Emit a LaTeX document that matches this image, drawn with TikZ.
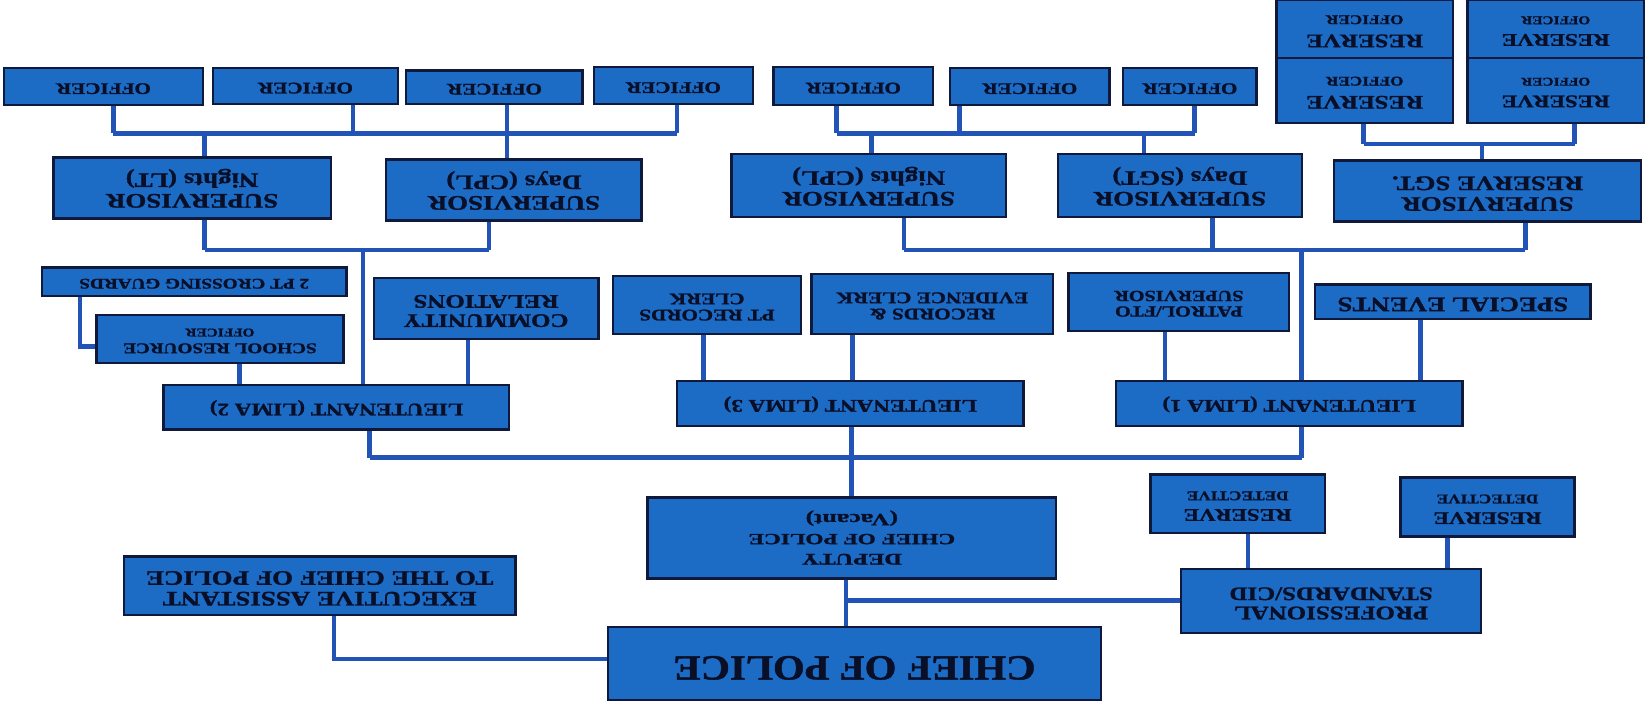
\documentclass[tikz,border=0pt]{standalone}
\usepackage{graphicx}
\usepackage{fontspec}
\setmainfont{Liberation Serif}[BoldFeatures={FakeBold=1.2}]

\definecolor{boxfill}{RGB}{28,108,198}
\definecolor{boxline}{RGB}{15,25,60}
\definecolor{boxtext}{RGB}{10,15,40}
\definecolor{linkblue}{RGB}{34,84,184}

\newcommand{\fs}[1]{\fontsize{#1}{#1}\selectfont}
\newcommand{\flip}[2][1.3]{\rotatebox{180}{\scalebox{#1}[1]{\begin{tabular}{@{}c@{}}#2\end{tabular}}}}

\begin{document}
\begin{tikzpicture}[x=0.025cm, y=-0.025cm, box/.style={draw=boxline, line width=1.6pt, fill=boxfill, text=boxtext, inner sep=0pt}, link/.style={draw=linkblue, line width=3pt}]
                \useasboundingbox (0,0) rectangle (1568,669);
                % officers
                \node[box, minimum width=4.73cm, minimum height=0.88cm, font=\bfseries\fs{11}] (off1) at (98.5,82.5) {\flip{OFFICER}};
                \node[box, minimum width=4.4cm, minimum height=0.85cm, font=\bfseries\fs{11}] (off2) at (291,82) {\flip{OFFICER}};
                \node[box, minimum width=4.2cm, minimum height=0.8cm, font=\bfseries\fs{11}] (off3) at (471,83) {\flip{OFFICER}};
                \node[box, minimum width=3.78cm, minimum height=0.88cm, font=\bfseries\fs{11}] (off4) at (641.5,81.5) {\flip{OFFICER}};
                \node[box, minimum width=3.8cm, minimum height=0.9cm, font=\bfseries\fs{11}] (off5) at (813,82) {\flip{OFFICER}};
                \node[box, minimum width=3.8cm, minimum height=0.88cm, font=\bfseries\fs{11}] (off6) at (981,82.5) {\flip{OFFICER}};
                \node[box, minimum width=3.18cm, minimum height=0.88cm, font=\bfseries\fs{11}] (off7) at (1133.5,82.5) {\flip{OFFICER}};
                % reserve officers
                \node[box, minimum width=4.2cm, minimum height=1.38cm, font=\bfseries\fs{13}] (res1) at (1300,27.5) {\flip{RESERVE\\ \fs{9}OFFICER}};
                \node[box, minimum width=4.2cm, minimum height=1.38cm, font=\bfseries\fs{12}] (res2) at (1482,27.5) {\flip{RESERVE\\ \fs{8}OFFICER}};
                \node[box, minimum width=4.2cm, minimum height=1.55cm, font=\bfseries\fs{13}] (res3) at (1300,86) {\flip{RESERVE\\ \fs{9}OFFICER}};
                \node[box, minimum width=4.2cm, minimum height=1.55cm, font=\bfseries\fs{12}] (res4) at (1482,86) {\flip{RESERVE\\ \fs{8}OFFICER}};
                % supervisors
                \node[box, minimum width=6.6cm, minimum height=1.45cm, font=\bfseries\fs{14}] (supnl) at (183,179) {\flip{SUPERVISOR\\ Nights (LT)}};
                \node[box, minimum width=6.08cm, minimum height=1.45cm, font=\bfseries\fs{14}] (supdc) at (489.5,181) {\flip{SUPERVISOR\\ Days (CPL)}};
                \node[box, minimum width=6.53cm, minimum height=1.5cm, font=\bfseries\fs{14}] (supnc) at (827.5,177) {\flip{SUPERVISOR\\ Nights (CPL)}};
                \node[box, minimum width=5.8cm, minimum height=1.5cm, font=\bfseries\fs{14}] (supds) at (1124,177) {\flip{SUPERVISOR\\ Days (SGT)}};
                \node[box, minimum width=7.3cm, minimum height=1.45cm, font=\bfseries\fs{14}] (supres) at (1417,182) {\flip{SUPERVISOR\\ RESERVE SGT.}};
                % units under the lieutenants
                \node[box, minimum width=7.25cm, minimum height=0.68cm, font=\bfseries\fs{10}] (guards) at (185,268.5) {\flip{2 PT CROSSING GUARDS}};
                \node[box, minimum width=5.88cm, minimum height=1.15cm, font=\bfseries\fs{10}] (school) at (209.5,323) {\flip{SCHOOL RESOURCE\\ \fs{8}OFFICER}};
                \node[box, minimum width=5.35cm, minimum height=1.45cm, font=\bfseries\fs{13}] (community) at (463,294) {\flip{COMMUNITY\\ RELATIONS}};
                \node[box, minimum width=4.48cm, minimum height=1.38cm, font=\bfseries\fs{11}] (ptrec) at (673.5,290.5) {\flip{PT RECORDS\\ CLERK}};
                \node[box, minimum width=5.75cm, minimum height=1.43cm, font=\bfseries\fs{11}] (recev) at (888,289.5) {\flip{RECORDS \&\\ EVIDENCE CLERK}};
                \node[box, minimum width=5.25cm, minimum height=1.38cm, font=\bfseries\fs{10.5}] (patrol) at (1123,287.5) {\flip{PATROL/FTO\\ SUPERVISOR}};
                \node[box, minimum width=6.55cm, minimum height=0.83cm, font=\bfseries\fs{14}] (special) at (1384,287.5) {\flip{SPECIAL EVENTS}};
                % lieutenants
                \node[box, minimum width=8.23cm, minimum height=1.05cm, font=\bfseries\fs{12}] (lt2) at (320.5,388) {\flip{LIEUTENANT (LIMA 2)}};
                \node[box, minimum width=8.25cm, minimum height=1.08cm, font=\bfseries\fs{12}] (lt3) at (810,384.5) {\flip{LIEUTENANT (LIMA 3)}};
                \node[box, minimum width=8.25cm, minimum height=1.08cm, font=\bfseries\fs{12}] (lt1) at (1228,384.5) {\flip{LIEUTENANT (LIMA 1)}};
                % command staff
                \node[box, minimum width=9.73cm, minimum height=1.93cm, font=\bfseries\fontsize{12}{13.5}\selectfont] (deputy) at (811.5,512.5) {\flip[1.5]{\fs{11}DEPUTY\\ \fs{10.5}CHIEF OF POLICE\\ \fs{11.5}(Vacant)}};
                \node[box, minimum width=9.33cm, minimum height=1.4cm, font=\bfseries\fs{14}] (exec) at (304.5,558) {\flip{EXECUTIVE ASSISTANT\\ TO THE CHIEF OF POLICE}};
                \node[box, minimum width=11.75cm, minimum height=1.75cm, font=\bfseries\fs{24}] (chief) at (814,632) {\flip[1.15]{CHIEF OF POLICE}};
                \node[box, minimum width=7.15cm, minimum height=1.53cm, font=\bfseries\fs{13}] (prof) at (1268,572.5) {\flip{PROFESSIONAL\\ STANDARDS/CID}};
                \node[box, minimum width=4.15cm, minimum height=1.4cm, font=\bfseries\fs{12}] (rd1) at (1179,480) {\flip{RESERVE\\ \fs{9}DETECTIVE}};
                \node[box, minimum width=4.15cm, minimum height=1.4cm, font=\bfseries\fs{12}] (rd2) at (1417,483) {\flip{RESERVE\\ \fs{9}DETECTIVE}};
                % junctions
                \coordinate (tl1) at (108,127); \coordinate (tl2) at (195,127); \coordinate (tl3) at (336,127);
                \coordinate (tl4) at (483,127); \coordinate (tl5) at (645,127);
                \coordinate (tr1) at (797,127); \coordinate (tr2) at (830,127); \coordinate (tr3) at (914,127);
                \coordinate (tr4) at (1090,127); \coordinate (tr5) at (1138,127);
                \coordinate (rs1) at (1299,137); \coordinate (rs2) at (1412,137); \coordinate (rs3) at (1500,137);
                \coordinate (sl1) at (195,238); \coordinate (sl2) at (346,238); \coordinate (sl3) at (466,238);
                \coordinate (sr1) at (861,238); \coordinate (sr2) at (1155,238); \coordinate (sr3) at (1240,238);
                \coordinate (sr4) at (1453,238);
                \coordinate (lb1) at (352,436); \coordinate (lb2) at (811,436); \coordinate (lb3) at (1240,436);
                \coordinate (db1) at (806,572); \coordinate (ex1) at (318,628); \coordinate (g1) at (76,330);
                \coordinate (v1) at (228,0); \coordinate (v2) at (446,0); \coordinate (v3) at (670,0);
                \coordinate (v4) at (812,0); \coordinate (v5) at (1110,0); \coordinate (v6) at (1353,0);
                \coordinate (v7) at (1189,0); \coordinate (v8) at (1379,0);
                % edges: officers to supervisors
                \draw[link] (tl1) -- (tl5);
                \draw[link] (tl1) -- (tl1 |- off1.south);
                \draw[link] (tl3) -- (tl3 |- off2.south);
                \draw[link] (tl4) -- (tl4 |- off3.south);
                \draw[link] (tl5) -- (tl5 |- off4.south);
                \draw[link] (tl2) -- (tl2 |- supnl.north);
                \draw[link] (tl4) -- (tl4 |- supdc.north);
                \draw[link] (tr1) -- (tr5);
                \draw[link] (tr1) -- (tr1 |- off5.south);
                \draw[link] (tr3) -- (tr3 |- off6.south);
                \draw[link] (tr5) -- (tr5 |- off7.south);
                \draw[link] (tr2) -- (tr2 |- supnc.north);
                \draw[link] (tr4) -- (tr4 |- supds.north);
                \draw[link] (rs1) -- (rs3);
                \draw[link] (rs1) -- (rs1 |- res3.south);
                \draw[link] (rs3) -- (rs3 |- res4.south);
                \draw[link] (rs2) -- (rs2 |- supres.north);
                % edges: supervisors to lieutenants
                \draw[link] (sl1) -- (sl3);
                \draw[link] (sl1) -- (sl1 |- supnl.south);
                \draw[link] (sl3) -- (sl3 |- supdc.south);
                \draw[link] (sl2) -- (sl2 |- lt2.north);
                \draw[link] (sr1) -- (sr4);
                \draw[link] (sr1) -- (sr1 |- supnc.south);
                \draw[link] (sr2) -- (sr2 |- supds.south);
                \draw[link] (sr4) -- (sr4 |- supres.south);
                \draw[link] (sr3) -- (sr3 |- lt1.north);
                % edges: units to lieutenants
                \draw[link] (v1 |- school.south) -- (v1 |- lt2.north);
                \draw[link] (v2 |- community.south) -- (v2 |- lt2.north);
                \draw[link] (g1 |- guards.south) -- (g1) -- (g1 -| school.west);
                \draw[link] (v3 |- ptrec.south) -- (v3 |- lt3.north);
                \draw[link] (v4 |- recev.south) -- (v4 |- lt3.north);
                \draw[link] (v5 |- patrol.south) -- (v5 |- lt1.north);
                \draw[link] (v6 |- special.south) -- (v6 |- lt1.north);
                % edges: command staff
                \draw[link] (lb1) -- (lb3);
                \draw[link] (lb1) -- (lb1 |- lt2.south);
                \draw[link] (lb3) -- (lb3 |- lt1.south);
                \draw[link] (lb2 |- lt3.south) -- (lb2 |- deputy.north);
                \draw[link] (db1 |- deputy.south) -- (db1 |- chief.north);
                \draw[link] (db1) -- (db1 -| prof.west);
                \draw[link] (ex1 -| chief.west) -- (ex1) -- (ex1 |- exec.south);
                \draw[link] (v7 |- prof.north) -- (v7 |- rd1.south);
                \draw[link] (v8 |- prof.north) -- (v8 |- rd2.south);
            \end{tikzpicture}
\end{document}
